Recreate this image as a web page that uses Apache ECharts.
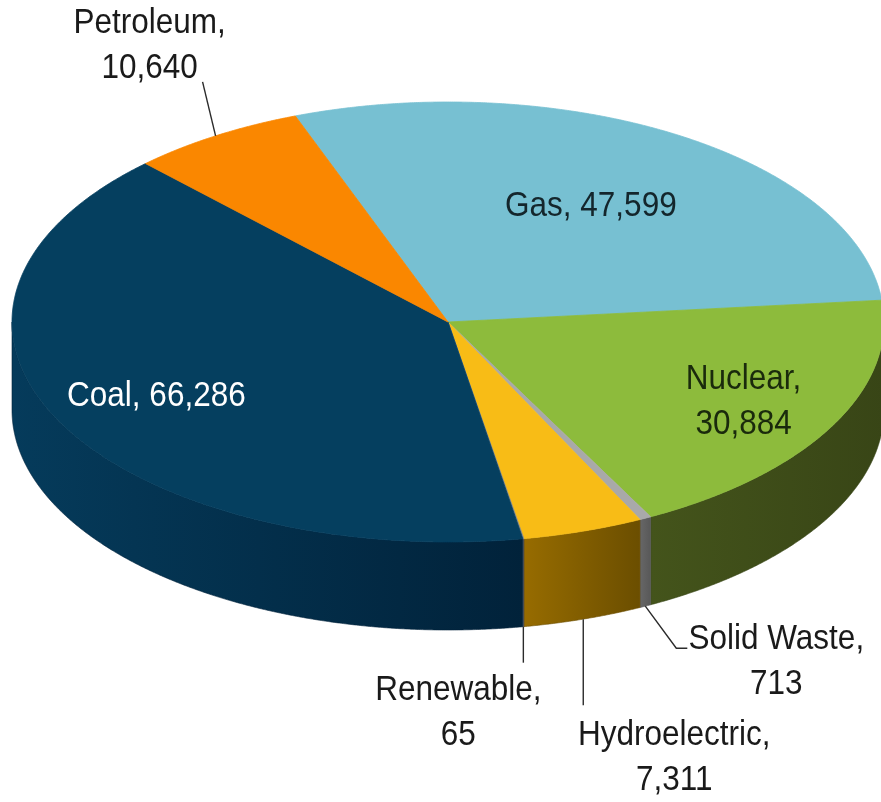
<!DOCTYPE html>
<html>
<head>
<meta charset="utf-8">
<script src="https://cdn.jsdelivr.net/npm/echarts@6/dist/echarts.min.js"></script>
<style>
html,body{margin:0;padding:0;background:#ffffff;}
#chart{width:881px;height:802px;}
</style>
</head>
<body>
<div id="chart"></div>
<script>
// ---- data ----
const categories = ['Gas', 'Nuclear', 'Solid Waste', 'Hydroelectric', 'Renewable', 'Coal', 'Petroleum'];
const values = [47599, 30884, 713, 7311, 65, 66286, 10640];

// ---- styles ----
const topColors = ['#77c0d2', '#8dbb3c', '#a9a9a9', '#f8bc16', '#8c8c8c', '#053f5f', '#fa8700'];
const sideColors = [
  ['#4d8796', '#3f6f7b'],
  ['#44541b', '#384516'],
  ['#676767', '#585858'],
  ['#976c00', '#6b4e00'],
  ['#5a5a5a', '#505050'],
  ['#053b5b', '#01223a'],
  ['#a85a00', '#8a4a00']
];
const labelLayout = {
  'Gas':          { kind: 'inside', r: 0.62, fill: '#14262c', multi: false },
  'Nuclear':      { kind: 'inside', r: 0.77, fill: '#1a2a0c', multi: true },
  'Coal':         { kind: 'inside', r: 0.75, fill: '#ffffff', multi: false },
  'Petroleum':    { kind: 'outside', anchor: 'top',    line: [[-13, -54]],          text: [-66, -90] },
  'Renewable':    { kind: 'outside', anchor: 'bottom', line: [[0, 36]],             text: [-65, 86] },
  'Hydroelectric':{ kind: 'outside', anchor: 'bottom', line: [[0, 86]],             text: [91, 139] },
  'Solid Waste':  { kind: 'outside', anchor: 'bottom', line: [[31, 42], [42, 42]],  text: [131, 56] }
};
const SQUASH = 220 / 436;   // ellipse ratio of the tilted pie
const DEPTH = 88;           // thickness of the pie
const FONT = { fontSize: 35, fontFamily: '"Liberation Sans", Arial, Helvetica, sans-serif', lineHeight: 45 };

// ---- derived ----
const total = values.reduce((a, b) => a + b, 0);
const starts = [];
(function () { let acc = 0; values.forEach(v => { starts.push(acc); acc += v; }); })();
const fmt = v => v.toLocaleString('en-US');

const chart = echarts.init(document.getElementById('chart'), null, { renderer: 'canvas' });

function renderItem(params, api) {
  const i = params.dataIndex;
  const name = categories[i];
  const s = api.value(1), e = api.value(2);
  const cs = params.coordSys;
  const cx = cs.cx, cy = cs.cy;
  function P(r, v) {
    const p = api.coord([r, v]);
    return [p[0], cy + (p[1] - cy) * SQUASH];
  }
  const n = Math.max(2, Math.ceil((e - s) / total * 1440));
  const arc = [];
  for (let k = 0; k <= n; k++) arc.push(P(1, s + (e - s) * k / n));

  const children = [];

  // side wall (front-facing part only)
  const segs = [];
  let seg = null;
  for (let k = 0; k < arc.length; k++) {
    const p = arc[k];
    const front = p[1] >= cy;
    if (front) {
      if (!seg) {
        seg = [];
        if (k > 0) {
          const q = arc[k - 1];
          const t = (cy - q[1]) / (p[1] - q[1]);
          seg.push([q[0] + (p[0] - q[0]) * t, cy]);
        }
      }
      seg.push(p);
    } else if (seg) {
      const q = arc[k - 1];
      const t = (cy - q[1]) / (p[1] - q[1]);
      seg.push([q[0] + (p[0] - q[0]) * t, cy]);
      segs.push(seg);
      seg = null;
    }
  }
  if (seg) segs.push(seg);
  segs.forEach(sg => {
    if (sg.length < 2) return;
    const pts = sg.concat(sg.slice().reverse().map(p => [p[0], p[1] + DEPTH]));
    const grad = new echarts.graphic.LinearGradient(0, 0, 1, 0, [
      { offset: 0, color: sideColors[i][0] },
      { offset: 1, color: sideColors[i][1] }
    ]);
    children.push({
      type: 'polygon', z2: 0,
      shape: { points: pts },
      style: { fill: grad, stroke: sideColors[i][1], lineWidth: 0.6 }
    });
  });

  // top face
  children.push({
    type: 'polygon', z2: 1,
    shape: { points: [[cx, cy]].concat(arc) },
    style: { fill: topColors[i], stroke: topColors[i], lineWidth: 0.8 }
  });

  // label
  const L = labelLayout[name];
  const mid = (s + e) / 2;
  if (L.kind === 'inside') {
    const p = P(L.r, mid);
    const txt = L.multi ? name + ',\n' + fmt(values[i]) : name + ', ' + fmt(values[i]);
    children.push({
      type: 'text', z2: 5, x: p[0], y: p[1], scaleX: 0.9,
      style: Object.assign({ text: txt, fill: L.fill, align: 'center', verticalAlign: 'middle' }, FONT)
    });
  } else {
    const a = P(1, mid);
    if (L.anchor === 'bottom') a[1] += DEPTH;
    const linePts = [a].concat(L.line.map(d => [a[0] + d[0], a[1] + d[1]]));
    children.push({
      type: 'polyline', z2: 5,
      shape: { points: linePts },
      style: { stroke: '#2b2b2b', lineWidth: 1.4, fill: null }
    });
    children.push({
      type: 'text', z2: 5, x: a[0] + L.text[0], y: a[1] + L.text[1], scaleX: 0.9,
      style: Object.assign({ text: name + ',\n' + fmt(values[i]), fill: '#1a1a1a', align: 'center', verticalAlign: 'middle' }, FONT)
    });
  }
  return { type: 'group', children: children };
}

chart.setOption({
  backgroundColor: '#ffffff',
  animation: false,
  polar: { center: [448, 322], radius: 436 },
  angleAxis: { type: 'value', min: 0, max: total, startAngle: 110.5, clockwise: true, show: false },
  radiusAxis: { type: 'value', min: 0, max: 1, show: false },
  series: [{
    type: 'custom',
    coordinateSystem: 'polar',
    dimensions: ['r', 'start', 'end', 'value'],
    encode: { radius: 0, angle: [1, 2] },
    data: values.map((v, i) => ({ name: categories[i], value: [1, starts[i], starts[i] + v, v] })),
    renderItem: renderItem
  }]
});
</script>
</body>
</html>
